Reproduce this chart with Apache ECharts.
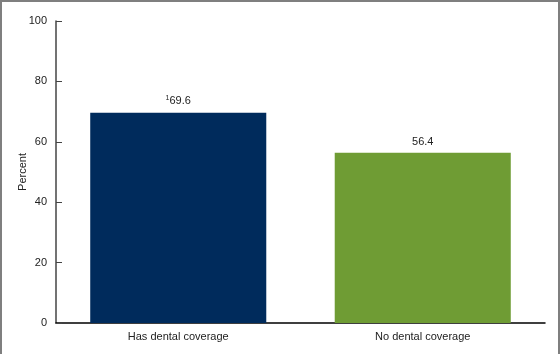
<!DOCTYPE html>
<html>
<head>
<meta charset="utf-8">
<script src="https://cdn.jsdelivr.net/npm/echarts@6/dist/echarts.min.js"></script>
<style>
  html, body { margin: 0; padding: 0; background: #fff; }
  #main { width: 560px; height: 354px; box-sizing: border-box; border-top: 2px solid #7f7f7f; border-left: 2px solid #7f7f7f; border-right: 2px solid #7f7f7f; }
</style>
</head>
<body>
<div id="main"></div>
<script>
const categories = ['Has dental coverage', 'No dental coverage']
const values = [69.6, 56.4]
const footnotes = ['1', '']
const barColors = ['#002b5c', '#6f9c34']
const yTicks = [0, 20, 40, 60, 80, 100]

const chart = echarts.init(document.getElementById('main'))
const font = 'Liberation Sans, Arial, sans-serif'

const option = {
  animation: false,
  grid: { left: 54, right: 13, top: 19, bottom: 31, outerBoundsMode: 'none' },
  xAxis: {
    type: 'category',
    data: categories,
    axisLine: { lineStyle: { color: '#000', width: 1.5 } },
    axisTick: { show: false },
    axisLabel: { color: '#222', fontSize: 11, fontFamily: font, margin: 8 }
  },
  yAxis: {
    type: 'value',
    min: yTicks[0],
    max: yTicks[yTicks.length - 1],
    interval: 20,
    name: 'Percent',
    nameLocation: 'middle',
    nameGap: 28,
    nameMoveOverlap: false,
    nameTextStyle: { color: '#222', fontSize: 11, fontFamily: font },
    axisLine: { show: true, lineStyle: { color: '#444', width: 1.5 } },
    axisTick: { show: true, inside: true, length: 6, lineStyle: { color: '#444' } },
    splitLine: { show: false },
    axisLabel: { color: '#222', fontSize: 11, fontFamily: font, margin: 9 }
  },
  series: [{
    type: 'bar',
    barWidth: '72%',
    data: values.map((v, i) => ({ value: v, itemStyle: { color: barColors[i] } })),
    label: {
      show: true,
      position: 'top',
      distance: 5,
      formatter: p => (footnotes[p.dataIndex] ? '{sup|' + footnotes[p.dataIndex] + '}' : '') + '{v|' + p.value.toFixed(1) + '}',
      rich: {
        v: { fontSize: 11, color: '#222', fontFamily: font },
        sup: { fontSize: 7, color: '#222', fontFamily: font, verticalAlign: 'top', padding: [0, 0, 6, 0] }
      }
    }
  }]
}
chart.setOption(option)
</script>
</body>
</html>
